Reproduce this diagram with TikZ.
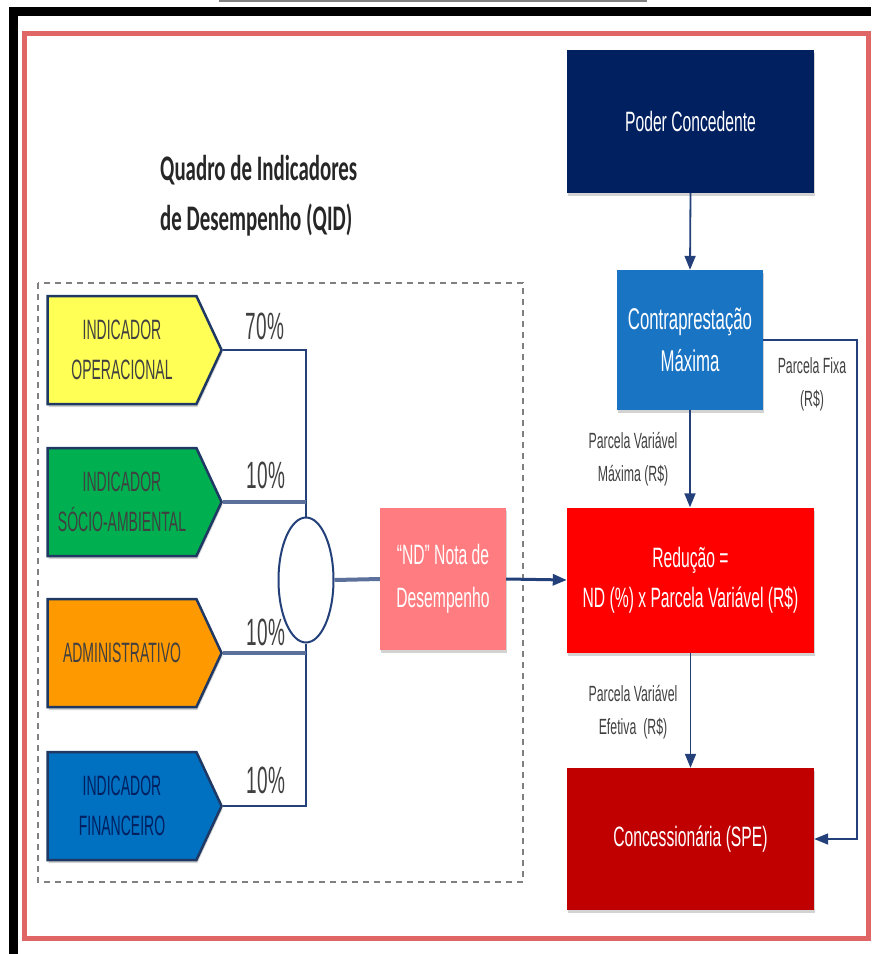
\documentclass[tikz,border=0pt]{standalone}
\usepackage{fontspec}
\setmainfont{Liberation Sans}
\newfontfamily\nar[FakeStretch=0.56]{Liberation Sans}
\newfontfamily\narr[FakeStretch=0.5]{Liberation Sans}
\newfontfamily\ttl[FakeStretch=0.58]{Carlito}
\usetikzlibrary{shapes.symbols,shapes.geometric,arrows.meta,shadows}
\definecolor{navy}{HTML}{1F3864}
\definecolor{lnav}{HTML}{24407A}
\definecolor{yel}{HTML}{FFFF55}
\definecolor{grn}{HTML}{00B050}
\definecolor{org}{HTML}{FF9900}
\definecolor{blu}{HTML}{0070C0}
\definecolor{dnav}{HTML}{002060}
\definecolor{cblu}{HTML}{1A74C4}
\definecolor{rd}{HTML}{FF0000}
\definecolor{drd}{HTML}{C00000}
\definecolor{pink}{HTML}{FF7C80}
\definecolor{frame}{HTML}{E06666}
\definecolor{txt}{HTML}{404040}
\begin{document}
\begin{tikzpicture}[x=1pt,y=-1pt,
  chev/.style={signal, signal to=east, signal from=nowhere, signal pointer angle=130,
    draw=navy, line width=2.5pt, minimum width=174pt, minimum height=108pt,
    inner sep=0pt, align=center, text=txt,
    font=\narr\fontsize{28}{40}\selectfont,
    drop shadow={shadow xshift=1pt, shadow yshift=-3pt, opacity=.35}},
  box/.style={rectangle, inner sep=0pt, align=center, text=white,
    drop shadow={shadow xshift=1pt, shadow yshift=-3pt, opacity=.35}},
  pct/.style={font=\narr\fontsize{38}{40}\selectfont, text=txt, inner sep=0pt},
  lbl/.style={font=\nar\fontsize{22}{33}\selectfont, text=txt, align=center, inner sep=0pt},
  conn/.style={draw=lnav, line width=1.8pt},
  connthick/.style={draw=lnav!75, line width=4pt},
  arr/.style={draw=lnav, line width=1.8pt, -{Triangle[width=11pt,length=14pt]}}
]
\useasboundingbox (0,0) rectangle (871,954);
% frames
\draw[gray, line width=2pt] (219,1) -- (647,1);
\draw[black, line width=9pt] (13,954) -- (13,11.5) -- (871,11.5);
\draw[frame, line width=5pt] (24.5,33) rectangle (868,938.5);
% title
\node[font=\ttl\bfseries\fontsize{36}{50}\selectfont, align=left, text=black!85, inner sep=0pt, anchor=west] (title) at (160,196) {Quadro de Indicadores\\de Desempenho (QID)};
% dashed group
\draw[gray, line width=2pt, dash pattern=on 6pt off 5pt] (38,283) rectangle (523,882);
% chevrons
\node[chev, fill=yel] (op) at (122,350) {INDICADOR\\OPERACIONAL};
\node[chev, fill=grn] (soc) at (122,502) {INDICADOR\\SÓCIO-AMBIENTAL};
\node[chev, fill=org] (adm) at (122,653) {ADMINISTRATIVO};
\node[chev, fill=blu, text=dnav] (fin) at (122,806) {INDICADOR\\FINANCEIRO};
% percentages
\node[pct] (p1) at (265,326) {70\%};
\node[pct] (p2) at (266,475) {10\%};
\node[pct] (p3) at (266,632) {10\%};
\node[pct] (p4) at (266,780) {10\%};
% aggregator
\node[ellipse, draw=lnav, line width=2pt, fill=white, minimum width=55pt, minimum height=125pt, inner sep=0pt] (circ) at (306,580) {};
% ND box
\node[box, fill=pink, minimum width=126pt, minimum height=142pt, font=\nar\fontsize{28}{43}\selectfont] (nd) at (443,579) {“ND” Nota de\\Desempenho};
% right column
\node[box, fill=dnav, minimum width=247pt, minimum height=143pt, font=\nar\fontsize{28}{40}\selectfont] (pc) at (690.5,121.5) {Poder Concedente};
\node[box, fill=cblu, minimum width=146pt, minimum height=140pt, font=\nar\fontsize{30}{42}\selectfont] (cm) at (690,340) {Contraprestação\\Máxima};
\node[box, fill=rd, minimum width=247pt, minimum height=145pt, font=\nar\fontsize{28}{40}\selectfont] (red) at (690.5,580) {Redução =\\ND (\%) x Parcela Variável (R\$)};
\node[box, fill=drd, minimum width=247pt, minimum height=142pt, font=\nar\fontsize{28}{40}\selectfont] (conc) at (690.5,839) {Concessionária (SPE)};
% labels
\node[lbl] (lfix) at (812,384) {Parcela Fixa\\(R\$)};
\node[lbl] (lmax) at (633,459) {Parcela Variável\\Máxima (R\$)};
\node[lbl] (lefe) at (633,712) {Parcela Variável\\Efetiva~~(R\$)};
% connectors
\coordinate (fx) at (857,340);
\draw[conn] (op.east) -| (circ.north);
\draw[conn] (fin.east) -| (circ.south);
\draw[connthick] (soc.east) -- (soc.east -| circ.north);
\draw[connthick] (adm.east) -- (adm.east -| circ.south);
\draw[connthick] (circ.east) -- (nd.west);
\draw[arr, line width=3pt] (nd.east) -- (red.west);
\draw[arr] (pc.south) -- (cm.north);
\draw[arr] (cm.south) -- (cm.south |- red.north);
\draw[arr] (red.south) -- (red.south |- conc.north);
\draw[arr] (cm.east) -- (fx) -- (fx |- conc.east) -- (conc.east);
\end{tikzpicture}
\end{document}
